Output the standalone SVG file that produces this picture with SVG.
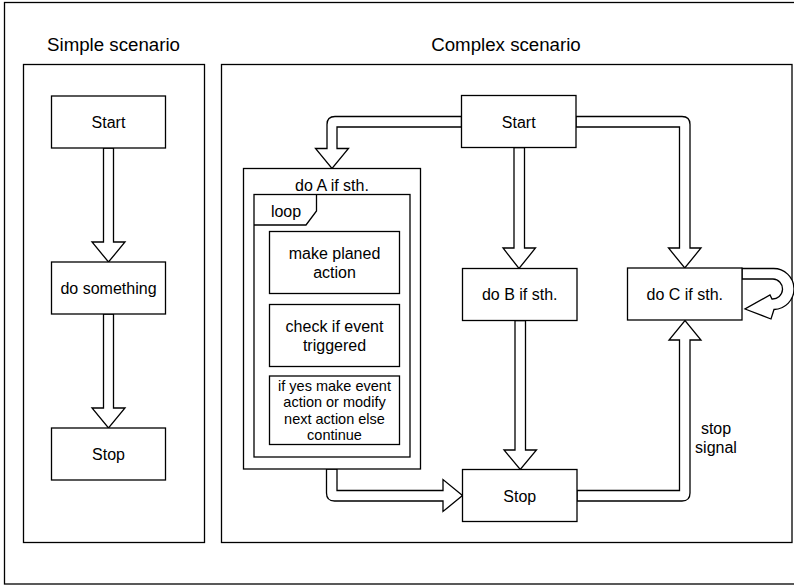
<svg xmlns="http://www.w3.org/2000/svg" width="794" height="586" viewBox="0 0 794 586">
<style>
  .box{fill:#fff;stroke:#000;stroke-width:1.3}
  .frame{fill:none;stroke:#000;stroke-width:1.3}
  .arr{fill:#fff;stroke:#000;stroke-width:1.3;stroke-linejoin:miter}
  text{font-family:"Liberation Sans",Arial,Helvetica,sans-serif;fill:#000;text-anchor:middle}
  .t16{font-size:16px}
  .t14{font-size:14.5px}
  .t18{font-size:18.7px}
</style>
<rect width="794" height="586" fill="#fff"/>
<g id="frame">
  <rect class="frame" x="4.5" y="2.5" width="795" height="581.5" stroke="#444"/>
</g>
<g id="simple-panel">
  <text class="t18" x="113.5" y="51">Simple scenario</text>
  <rect class="frame" x="23.5" y="64.5" width="181" height="478"/>
</g>
<g id="complex-panel">
  <text class="t18" x="506" y="51">Complex scenario</text>
  <rect class="frame" x="221.5" y="64.5" width="570.5" height="478"/>
</g>
<g id="connectors">
  <path class="arr" d="M103.5,148 V242 H92 L108.5,262 L125,242 H113.5 V148 Z"/>
  <path class="arr" d="M103.5,314 V408 H92 L108.5,428 L125,408 H113.5 V314 Z"/>
  <path class="arr" d="M461.5,116.5 H335 Q327,116.5 327,124.5 V148.5 H315.5 L332,168.5 L348.5,148.5 H337 V127 H461.5 Z"/>
  <path class="arr" d="M514,147.5 V248 H503 L519,268.5 L535.5,248 H524.5 V147.5 Z"/>
  <path class="arr" d="M576,116.5 H682 Q690,116.5 690,124.5 V248 H701 L684.75,268 L668.5,248 H679.5 V127 H576 Z"/>
  <path class="arr" d="M326.5,469 V493 Q326.5,501 334.5,501 H443 V511.5 L462.5,495.5 L443,479.5 V490.5 H337 V469 Z"/>
  <path class="arr" d="M515,320.5 V450 H504 L520.25,469.5 L536.5,450 H525.5 V320.5 Z"/>
  <path class="arr" d="M577,490.5 H679.5 V340 H669 L685,320.5 L701,340 H690 V493 Q690,501 682,501 H577 Z"/>
  <path class="arr" d="M742,268.5 H773 A20.5,20.5 0 0 1 774,309.5 L771,319 L745,309 L770,295 L772,299 A10,10 0 0 0 773,279 H742 Z"/>
  <text class="t16" x="716" y="434">stop</text>
  <text class="t16" x="716" y="452.5">signal</text>
</g>
<g id="s-start">
  <rect class="box" x="51.5" y="96" width="114" height="52"/>
  <text class="t16" x="108.5" y="128">Start</text>
</g>
<g id="s-do">
  <rect class="box" x="51.5" y="262" width="114" height="52"/>
  <text class="t16" x="108.5" y="294">do something</text>
</g>
<g id="s-stop">
  <rect class="box" x="51.5" y="428" width="114" height="52"/>
  <text class="t16" x="108.5" y="460">Stop</text>
</g>
<g id="c-start">
  <rect class="box" x="461.5" y="95.5" width="114.5" height="52"/>
  <text class="t16" x="518.75" y="127.5">Start</text>
</g>
<g id="c-doA">
  <rect class="box" x="243.5" y="168.5" width="177" height="300.5"/>
  <text class="t16" x="332" y="190.5">do A if sth.</text>
</g>
<g id="c-loop">
  <rect class="box" x="254" y="194.5" width="156" height="262.5"/>
  <path class="frame" d="M254,225 H306 L316.5,211 V194.5"/>
  <text class="t16" x="286" y="216.5">loop</text>
</g>
<g id="c-step1">
  <rect class="box" x="269.5" y="231.5" width="130" height="62"/>
  <text class="t16" x="334.5" y="258.5">make planed</text>
  <text class="t16" x="334.5" y="277.5">action</text>
</g>
<g id="c-step2">
  <rect class="box" x="269.5" y="304.5" width="130" height="62"/>
  <text class="t16" x="334.5" y="331.5">check if event</text>
  <text class="t16" x="334.5" y="350.5">triggered</text>
</g>
<g id="c-step3">
  <rect class="box" x="269.5" y="376" width="130" height="68.5"/>
  <text class="t14" x="334.5" y="390.5">if yes make event</text>
  <text class="t14" x="334.5" y="407">action or modify</text>
  <text class="t14" x="334.5" y="423.5">next action else</text>
  <text class="t14" x="334.5" y="440">continue</text>
</g>
<g id="c-doB">
  <rect class="box" x="462.5" y="268.5" width="114.5" height="52"/>
  <text class="t16" x="519.75" y="300">do B if sth.</text>
</g>
<g id="c-doC">
  <rect class="box" x="627.5" y="268" width="114.5" height="52"/>
  <text class="t16" x="684.75" y="300">do C if sth.</text>
</g>
<g id="c-stop">
  <rect class="box" x="462.5" y="469.5" width="114.5" height="52"/>
  <text class="t16" x="519.75" y="501.5">Stop</text>
</g>
</svg>
